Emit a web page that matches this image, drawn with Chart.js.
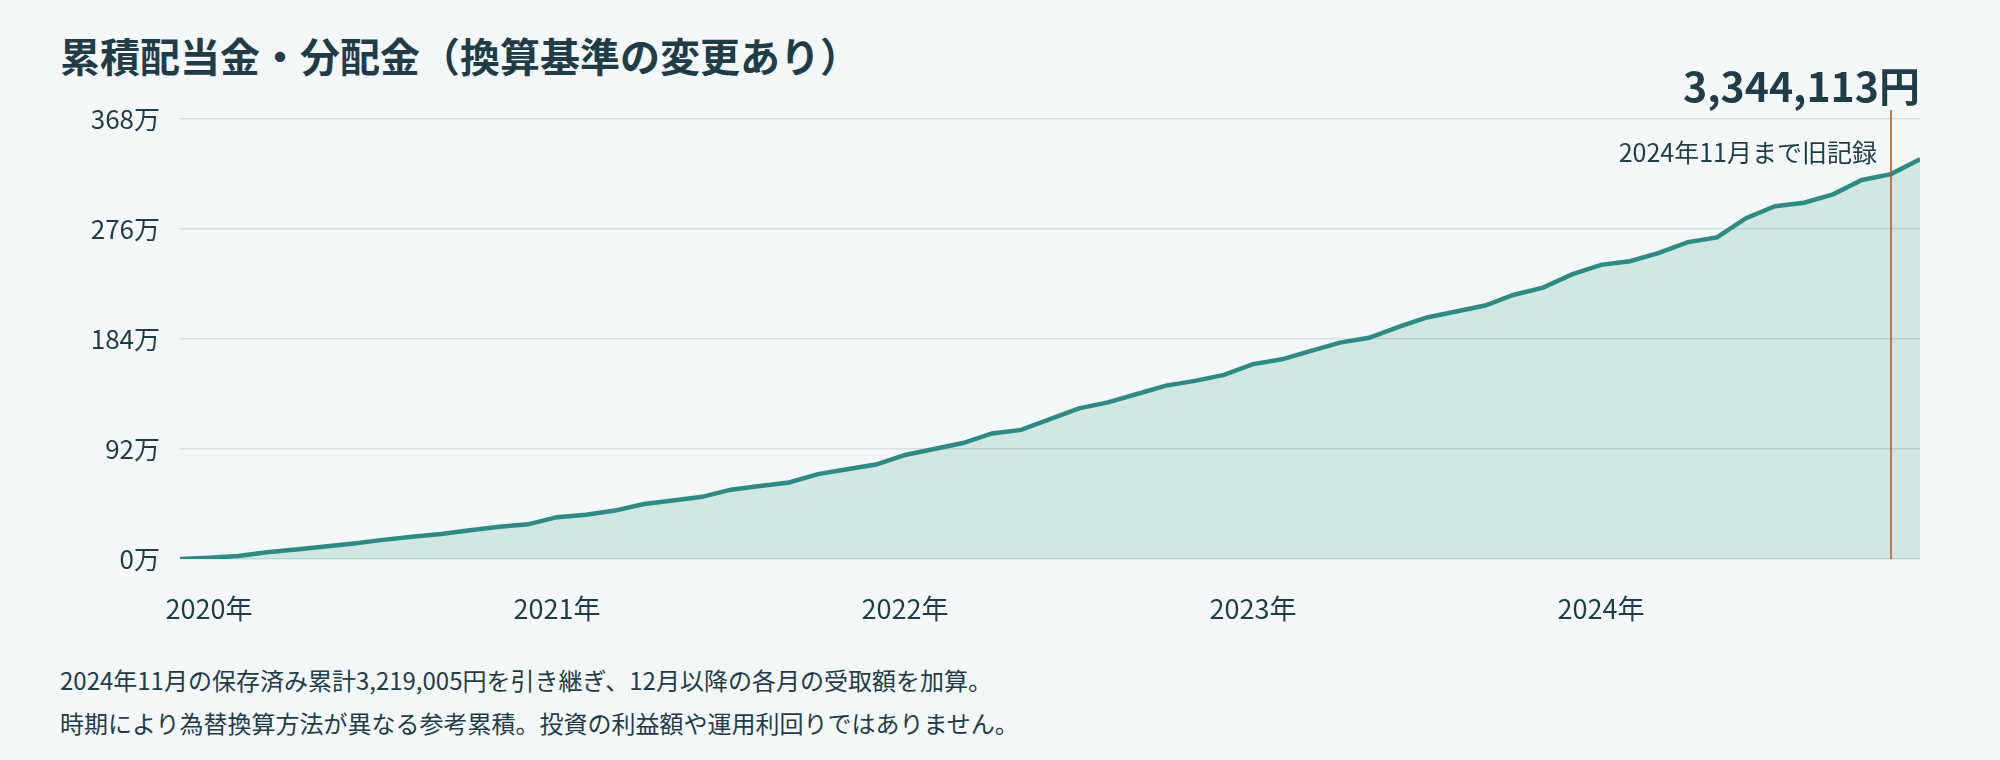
<!DOCTYPE html>
<html><head><meta charset="utf-8">
<script src="https://cdn.jsdelivr.net/npm/chart.js@4"></script>
<style>
body{margin:0;background:#f4f8f8;width:2000px;height:760px;overflow:hidden;font-family:"Noto Sans CJK JP","Noto Sans",sans-serif;color:#1e3d48}
#wrap{position:absolute;left:0;top:0;width:2000px;height:760px}
.t{position:absolute;white-space:nowrap}
</style></head><body>
<div class="t" style="left:60px;top:26px;font-size:40px;font-weight:700;">累積配当金・分配金（換算基準の変更あり）</div>
<div class="t" style="left:60px;top:662px;font-size:24px;">2024年11月の保存済み累計3,219,005円を引き継ぎ、12月以降の各月の受取額を加算。</div>
<div class="t" style="left:60px;top:705px;font-size:24px;">時期により為替換算方法が異なる参考累積。投資の利益額や運用利回りではありません。</div>
<div id="wrap"><canvas id="c" width="2000" height="760"></canvas></div>
<script>
const months = Array.from({length:61},(_, i)=>i); // month index from Jan 2020
const yearTicks = ['2020年','2021年','2022年','2023年','2024年'];
const cumulative = [0,1,2.5,5.7,8,10.5,13,16,18.7,21,24,27,29,35,37,40.5,46,49,52,58,61,64,71,75,79,87,92,97,105,108,117,126,131,138,145,149,154,163,167,174,181,185,194,202,207,212,221,227,238,246,249,256,265,269,285,295,298,305,317,321.9,334.4];
const oldRecordIndex = 59;
const totalLabel = '3,344,113円';
const oldRecordLabel = '2024年11月まで旧記録';

const overlay = {
  id:'overlay',
  afterDatasetsDraw(chart){
    const {ctx, chartArea, scales} = chart;
    const x = scales.x.getPixelForValue(oldRecordIndex);
    ctx.save();
    ctx.strokeStyle = '#b5531c'; ctx.lineWidth = 1.5;
    ctx.beginPath(); ctx.moveTo(x, 110); ctx.lineTo(x, chartArea.bottom); ctx.stroke();
    ctx.fillStyle = '#1e3d48'; ctx.textAlign = 'right'; ctx.textBaseline = 'middle';
    ctx.font = '700 41px "Noto Sans CJK JP", sans-serif';
    ctx.fillText(totalLabel, chartArea.right, 86);
    ctx.font = '25px "Noto Sans CJK JP", sans-serif';
    ctx.fillText(oldRecordLabel, x - 14, 152);
    ctx.restore();
  }
};

new Chart(document.getElementById('c'), {
  type:'line',
  data:{ labels: months, datasets:[{
    data: months.map((m,i)=>({x:m,y:cumulative[i]})),
    borderColor:'#2a8d85', borderWidth:4.5, pointRadius:0, tension:0,
    fill:'origin', backgroundColor:'rgba(42,141,133,0.17)'
  }]},
  options:{
    responsive:false, animation:false,
    layout:{padding:{left:0,right:80,top:119,bottom:0}},
    plugins:{legend:{display:false},tooltip:{enabled:false}},
    scales:{
      x:{type:'linear', min:0, max:60, border:{display:false},
        grid:{display:false},
        afterFit(s){s.height=201;},
        ticks:{stepSize:12, padding:26, labelOffset:29, color:'#1e3d48', maxRotation:0,
          font:{size:27,family:'"Noto Sans CJK JP", sans-serif'},
          callback:(v)=> yearTicks[v/12] ?? ''}},
      y:{min:0, max:368, border:{display:false},
        afterFit(s){s.width=180;},
        grid:{color:'#d3e0e0', lineWidth:1.5, drawTicks:false},
        ticks:{stepSize:92, padding:20, color:'#1e3d48',
          font:{size:26,family:'"Noto Sans CJK JP", sans-serif'},
          callback:(v)=> v+'万'}}
    }
  },
  plugins:[overlay]
});
</script></body></html>
